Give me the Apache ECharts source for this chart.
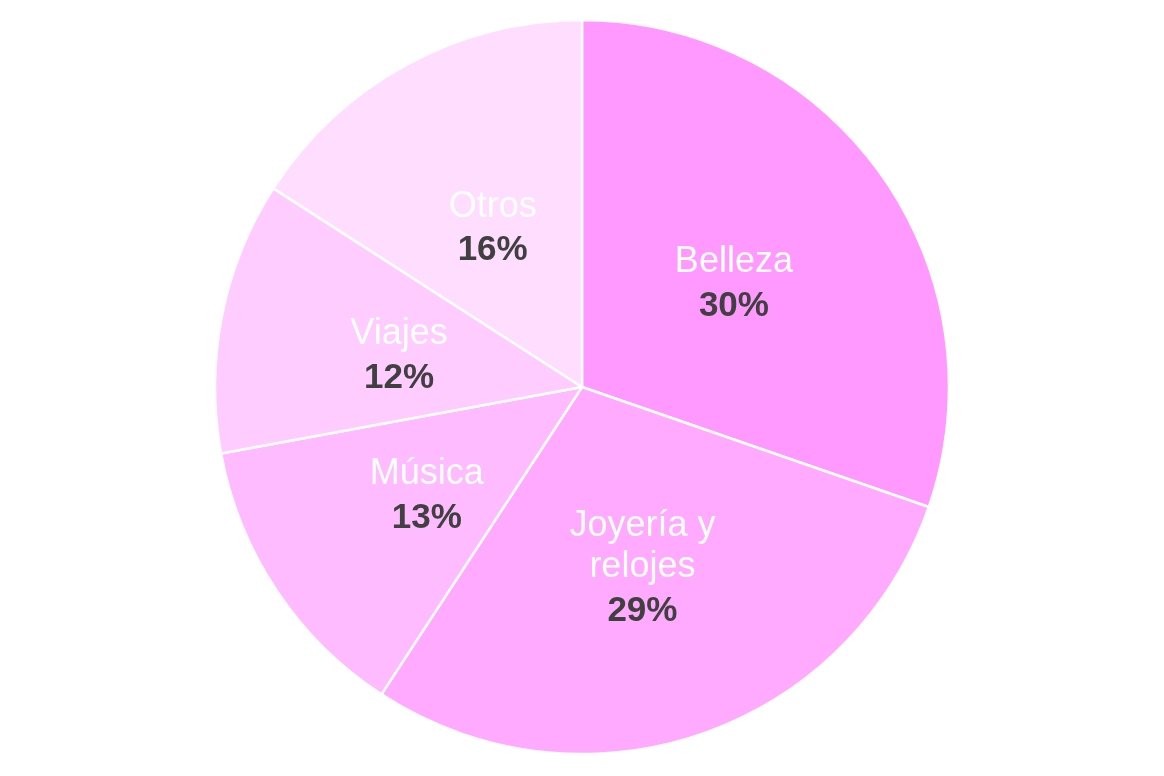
<!DOCTYPE html>
<html>
<head>
    <meta charset="utf-8" />
    <title>pie</title>
    <script src="https://cdn.jsdelivr.net/npm/echarts@6/dist/echarts.min.js"></script>
    <style>
        html, body { margin: 0; padding: 0; background: #fff; }
        #container { width: 1164px; height: 776px; }
    </style>
</head>
<body>
    <div id="container"></div>
<script>
    // datos del gráfico
    var categories = ["Belleza", "Joyería y\nrelojes", "Música", "Viajes", "Otros"];
    var values = [30.3, 28.9, 12.9, 12, 15.9];
    var labels = ["30%", "29%", "13%", "12%", "16%"];
    var colors = ["#FF99FF", "#FFAAFF", "#FFBBFF", "#FFCCFF", "#FFDDFF"];

    var pieData = [];
    for (var i = 0; i < categories.length; i++) {
        pieData.push({ name: categories[i], value: values[i], pct: labels[i], itemStyle: { color: colors[i] } });
    }

    var myChart = echarts.init(document.getElementById("container"));
    myChart.setOption({
        animation: false,
        series: [{
            type: "pie",
            center: [582, 387],
            radius: 367,
            startAngle: 90,
            clockwise: true,
            data: pieData,
            itemStyle: { borderColor: "#fff", borderWidth: 2.5 },
            label: {
                show: true,
                position: "inside",
                offset: [0, 5],
                fontFamily: "Liberation Sans, Arial, sans-serif",
                formatter: function (p) {
                    return "{n|" + p.name.split("\n").join("}\n{n|") + "}\n{v|" + p.data.pct + "}";
                },
                rich: {
                    n: { color: "#fff", fontSize: 36, lineHeight: 41, fontFamily: "Liberation Sans" },
                    v: { color: "#404040", fontSize: 35, lineHeight: 43, fontWeight: "bold", fontFamily: "Liberation Sans", padding: [4, 0, 0, 0] }
                }
            },
            labelLine: { show: false }
        }]
    });
</script>
</body>
</html>
